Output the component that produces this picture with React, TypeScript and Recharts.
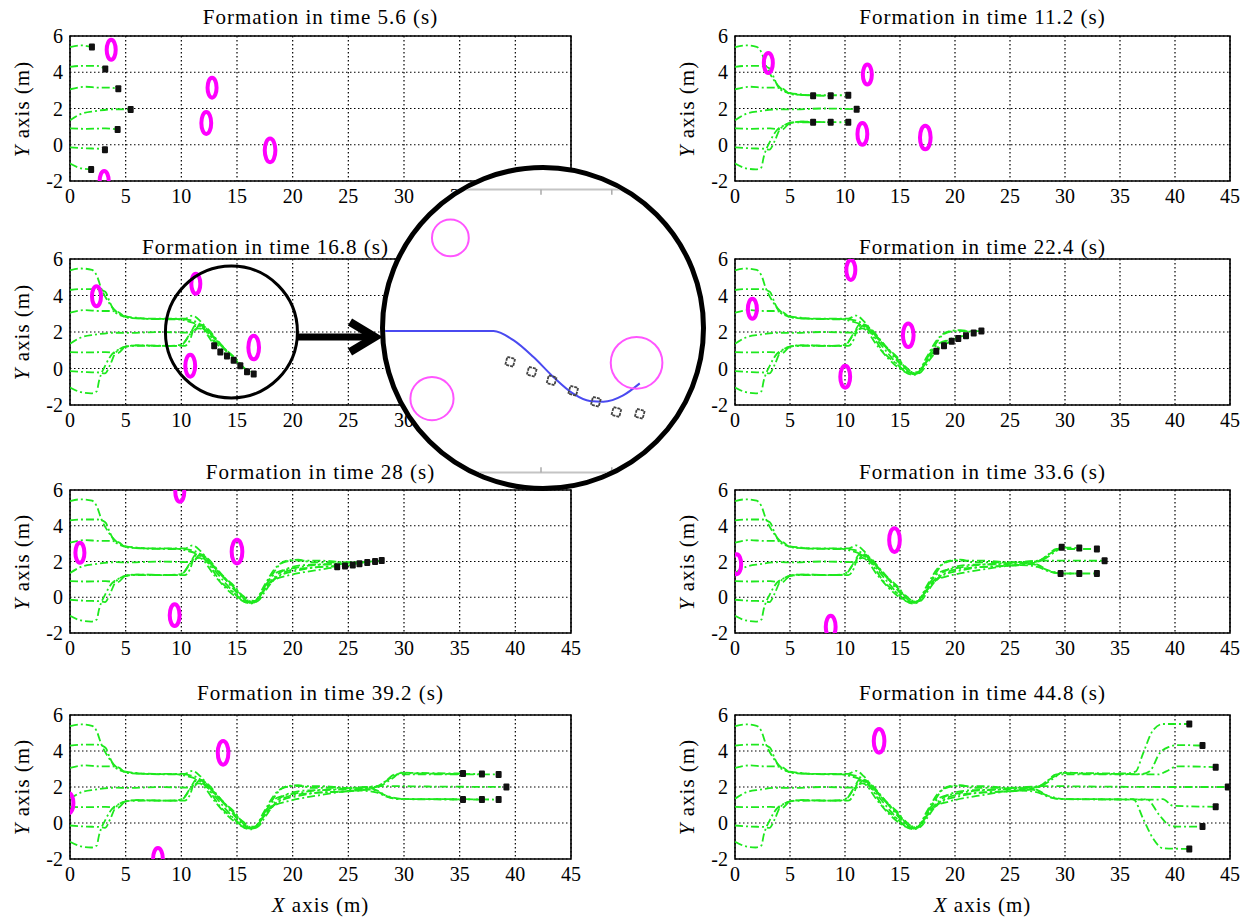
import React from "react";
import {
  ComposedChart,
  Line,
  Scatter,
  XAxis,
  YAxis,
  CartesianGrid,
  ReferenceArea,
  ReferenceDot,
  ReferenceLine,
} from "recharts";

const FONT = "'Liberation Serif', 'DejaVu Serif', serif";
const GREEN = "#1ee81e";
const MAGENTA = "#ff00ff";

const X_TICKS = [0, 5, 10, 15, 20, 25, 30, 35, 40, 45];
const Y_TICKS = [-2, 0, 2, 4, 6];
const FRAME_TIMES = ["5.6", "11.2", "16.8", "22.4", "28", "33.6", "39.2", "44.8"];

// robot trajectories (x, y), robots ordered top to bottom of the starting V
const path1 = [[0, 5.38], [1, 5.48], [1.97, 5.4], [2.4, 5.1], [2.8, 4.4], [3.5, 3.6], [4.1, 3.15], [5, 2.85], [6, 2.78], [7.1, 2.72], [9.5, 2.72], [10.5, 2.6], [11.3, 2.45], [12.2, 2.05], [13.5, 0.9], [14.8, 0.2], [15.8, -0.25], [16.4, -0.3], [17.2, 0.2], [18, 0.8], [19, 1.25], [20.5, 1.5], [22.5, 1.7], [24.7, 1.75], [26.5, 1.85], [28, 2.1], [29, 2.5], [29.7, 2.8], [31.3, 2.78], [35.3, 2.75], [36.4, 2.85], [37.1, 3.87], [38, 5.15], [38.9, 5.5], [41.3, 5.5]];
const path2 = [[0, 4.3], [1, 4.35], [2.4, 4.35], [3.17, 4.2], [3.6, 3.6], [4.1, 3.06], [5.3, 2.8], [7, 2.72], [8.7, 2.7], [10, 2.7], [10.8, 2.65], [11.5, 2.5], [12.3, 2.1], [13.5, 1.35], [14.7, 0.45], [15.6, -0.1], [16.2, -0.3], [16.8, -0.15], [17.6, 0.7], [18.6, 1.4], [20.3, 1.65], [22, 1.8], [24, 1.85], [26, 1.88], [27.5, 2.0], [28.8, 2.5], [29.8, 2.78], [31.3, 2.75], [37, 2.72], [37.7, 2.87], [38.6, 3.87], [39.5, 4.24], [40.2, 4.33], [42.5, 4.3]];
const path3 = [[0, 3.06], [1.4, 3.2], [2.6, 3.15], [3.5, 3.15], [4.34, 3.09], [5, 2.8], [6, 2.75], [8, 2.73], [10.3, 2.73], [11, 2.9], [11.7, 2.6], [12.5, 2.0], [13.5, 1.3], [14.8, 0.6], [15.9, -0.18], [16.6, -0.2], [17.4, 0.6], [18.4, 1.6], [19.5, 2.05], [20.5, 2.1], [21.7, 1.95], [24, 1.95], [27.4, 2.0], [28.3, 2.3], [29.2, 2.7], [32.9, 2.7], [38.5, 2.7], [39.2, 2.87], [40.2, 3.15], [43.7, 3.1]];
const path4 = [[0, 1.35], [1, 1.7], [2.24, 1.85], [4, 1.96], [5.45, 1.95], [8, 2.0], [11.06, 1.96], [11.6, 2.35], [12.3, 2.2], [13.3, 1.5], [14.5, 0.7], [15.5, 0.1], [16.5, -0.3], [17.2, 0.3], [18.2, 1.3], [19, 1.9], [20, 2.05], [22.4, 2.05], [25, 1.95], [28, 2.05], [33.6, 2.02], [39.2, 2.0], [44.8, 2.0]];
const path5 = [[0, 0.9], [1.5, 0.88], [3.2, 0.9], [4.28, 0.84], [5, 1.2], [6, 1.27], [8, 1.25], [10.3, 1.24], [10.8, 1.6], [11.2, 2.3], [11.8, 2.4], [12.6, 1.9], [13.8, 1.1], [15.3, 0.15], [16, -0.25], [16.7, -0.2], [17.5, 0.5], [18.5, 1.2], [19.5, 1.6], [21, 1.8], [23, 1.85], [26.7, 1.95], [27.6, 1.8], [28.6, 1.45], [29.5, 1.33], [32.9, 1.33], [38.5, 1.3], [38.9, 1.33], [39.8, 0.96], [43.7, 0.9]];
const path6 = [[0, -0.14], [1.5, -0.2], [2.6, -0.22], [3.14, -0.27], [3.6, 0.2], [4.1, 0.87], [5, 1.2], [6, 1.27], [8.7, 1.24], [10, 1.3], [10.8, 1.9], [11.3, 2.4], [12, 2.2], [13, 1.5], [14.1, 0.69], [15.2, -0.05], [15.9, -0.3], [16.6, -0.25], [17.4, 0.4], [18.3, 1.0], [19.7, 1.5], [21.5, 1.65], [23.5, 1.72], [25.4, 1.8], [27, 1.85], [28.5, 1.5], [30, 1.33], [31.3, 1.33], [37, 1.3], [37.4, 1.33], [38.6, 0.42], [39.5, -0.13], [40.2, -0.2], [42.5, -0.2]];
const path7 = [[0, -1.04], [1, -1.3], [1.9, -1.36], [2.4, -1.25], [2.6, -0.7], [3.2, 0.2], [3.8, 0.8], [4.4, 1.05], [5.3, 1.23], [7.1, 1.24], [9.5, 1.24], [10.2, 1.4], [10.9, 2.0], [11.6, 2.2], [12.95, 1.24], [14, 0.5], [15.2, -0.1], [16.2, -0.35], [16.9, -0.2], [17.6, 0.4], [18.3, 0.95], [19.5, 1.2], [21, 1.4], [22.5, 1.55], [24, 1.7], [26, 1.8], [27.5, 1.7], [28.5, 1.45], [29.6, 1.33], [35.3, 1.3], [36.2, 1.33], [37.1, 0.24], [38, -0.85], [38.9, -1.4], [41.3, -1.44]];
const ROBOT_PATHS = [path1, path2, path3, path4, path5, path6, path7];

// robot positions in each snapshot (same order as paths)
const robots5_6 = [[1.97, 5.4], [3.17, 4.18], [4.34, 3.09], [5.45, 1.95], [4.28, 0.84], [3.14, -0.27], [1.9, -1.36]];
const robots11_2 = [[7.1, 2.7], [8.7, 2.7], [10.3, 2.73], [11.06, 1.96], [10.3, 1.24], [8.7, 1.24], [7.1, 1.24]];
const robots16_8 = [[13.5, 0.9], [14.7, 0.45], [15.9, -0.18], [16.5, -0.3], [15.3, 0.15], [14.1, 0.69], [12.95, 1.24]];
const robots22_4 = [[19, 1.25], [20.3, 1.65], [21.7, 1.95], [22.4, 2.05], [21, 1.8], [19.7, 1.5], [18.3, 0.95]];
const robots28 = [[24.7, 1.75], [26, 1.88], [27.4, 2.0], [28, 2.05], [26.7, 1.95], [25.4, 1.8], [24, 1.7]];
const robots33_6 = [[29.7, 2.8], [31.3, 2.75], [32.9, 2.7], [33.6, 2.04], [32.9, 1.33], [31.3, 1.33], [29.6, 1.33]];
const robots39_2 = [[35.3, 2.75], [37, 2.72], [38.5, 2.7], [39.2, 2.0], [38.5, 1.3], [37, 1.3], [35.3, 1.3]];
const robots44_8 = [[41.3, 5.5], [42.5, 4.3], [43.7, 3.1], [44.8, 2.0], [43.7, 0.9], [42.5, -0.2], [41.3, -1.44]];
const FRAME_ROBOTS = [robots5_6, robots11_2, robots16_8, robots22_4, robots28, robots33_6, robots39_2, robots44_8];

// moving obstacles in each snapshot: x, y, radius (m)
const obst5_6 = [[3.7, 5.24, 0.55], [12.76, 3.15, 0.55], [12.24, 1.2, 0.6], [17.97, -0.31, 0.65], [3.07, -2.0, 0.55]];
const obst11_2 = [[3.03, 4.51, 0.55], [12.03, 3.87, 0.55], [11.58, 0.6, 0.6], [17.3, 0.4, 0.65]];
const obst16_8 = [[2.38, 3.96, 0.55], [11.3, 4.64, 0.55], [10.8, 0.15, 0.6], [16.5, 1.15, 0.65]];
const obst22_4 = [[1.58, 3.27, 0.55], [10.53, 5.4, 0.55], [10.02, -0.45, 0.6], [15.75, 1.82, 0.65]];
const obst28 = [[0.89, 2.49, 0.55], [9.86, 5.9, 0.55], [9.4, -1.0, 0.6], [15.0, 2.55, 0.65]];
const obst33_6 = [[0.15, 1.85, 0.55], [8.7, -1.65, 0.6], [14.5, 3.2, 0.65]];
const obst39_2 = [[-0.1, 1.1, 0.55], [7.9, -2.0, 0.6], [13.75, 3.9, 0.65]];
const obst44_8 = [[13.1, 4.56, 0.65]];
const FRAME_OBSTACLES = [obst5_6, obst11_2, obst16_8, obst22_4, obst28, obst33_6, obst39_2, obst44_8];

// magnified view of the 16.8 s snapshot
const zoomLeader = [[9.4, 2.0], [12.66, 2.0], [13.22, 1.74], [13.78, 1.27], [14.35, 0.7], [14.91, 0.23], [15.38, 0.02], [15.76, 0.0], [16.32, 0.18], [16.79, 0.52]];
const zoomRobots = [[13.13, 1.13], [13.74, 0.85], [14.3, 0.61], [14.91, 0.31], [15.55, 0.0], [16.13, -0.29], [16.79, -0.34]];
const zoomObstacles = [[11.44, 4.63, 0.52], [10.92, 0.09, 0.61], [16.7, 1.1, 0.73]];

// layout
const COL_X = [70, 735];
const COL_W = [501, 495];
const ROW_Y = [36, 259, 490, 715];
const ROW_H = [145, 146, 143, 144];
const TITLE_Y = [17, 247, 472, 693];
const TITLE_SHIFT = [0, 0, -55, 0, 0, 0, 0, 0];

type Pt = { x: number; y: number; r?: number };
const toPts = (a: number[][]): Pt[] => a.map(([x, y, r]) => ({ x, y, r }));

function trail(path: number[][], pos: number[]): Pt[] {
  const done = path.filter(([x]) => x < pos[0] - 0.01);
  return toPts([...done, pos]);
}

const RobotMark = (p: any) => (
  <rect x={p.cx - 3} y={p.cy - 3.5} width={6} height={7} rx={1} fill="#111" />
);

// main panels: ~11 px per metre horizontally, ~18 px per metre vertically
const ObstacleMark = (p: any) => (
  <ellipse
    cx={p.cx}
    cy={p.cy}
    rx={p.payload.r * 8.2}
    ry={p.payload.r * 18.2}
    fill="none"
    stroke={MAGENTA}
    strokeWidth={4}
  />
);

const ZOOM_PX = 35.4;
const ZoomObstacleMark = (p: any) => (
  <circle cx={p.cx} cy={p.cy} r={p.payload.r * ZOOM_PX} fill="none" stroke="#ff55ff" strokeWidth={2} />
);

const ZoomRobotMark = (p: any) => (
  <rect
    x={p.cx - 4}
    y={p.cy - 4}
    width={8}
    height={8}
    fill="none"
    stroke="#444"
    strokeWidth={1.8}
    strokeDasharray="3 1"
    transform={`rotate(15 ${p.cx} ${p.cy})`}
  />
);

const tickStyle = { fontSize: 20, fill: "#000", fontFamily: FONT };

function FormationPlot({ idx }: { idx: number }) {
  const col = idx % 2;
  const row = Math.floor(idx / 2);
  const left = COL_X[col];
  const w = COL_W[col];
  const top = ROW_Y[row];
  const h = ROW_H[row];
  const robots = FRAME_ROBOTS[idx];
  const padL = 70, padT = 12, padR = 12, padB = 32;

  return (
    <>
      <div style={{ position: "absolute", left: left - padL, top: top - padT }}>
        <ComposedChart
          width={w + padL + padR}
          height={h + padT + padB}
          margin={{ top: padT, right: padR, left: 0, bottom: 0 }}
          style={{ fontFamily: FONT }}
        >
          <CartesianGrid stroke="#000" strokeDasharray="1.5 2.5" strokeWidth={1.2} />
          <XAxis
            type="number"
            dataKey="x"
            domain={[0, 45]}
            ticks={X_TICKS}
            interval={0}
            allowDataOverflow
            axisLine={false}
            tickLine={false}
            height={padB}
            tick={tickStyle}
          />
          <YAxis
            type="number"
            dataKey="y"
            domain={[-2, 6]}
            ticks={Y_TICKS}
            interval={0}
            allowDataOverflow
            axisLine={false}
            tickLine={false}
            width={padL}
            tickMargin={1}
            tick={tickStyle}
          />
          <ReferenceArea x1={0} x2={45} y1={-2} y2={6} fill="#fff" fillOpacity={0} stroke="#000" strokeWidth={1.6} />
          {ROBOT_PATHS.map((p, i) => (
            <Line
              key={i}
              data={trail(p, robots[i])}
              dataKey="y"
              type="monotone"
              stroke={GREEN}
              strokeWidth={1.8}
              strokeDasharray="8 3 2 3"
              dot={false}
              activeDot={false}
              isAnimationActive={false}
            />
          ))}
          <Scatter data={toPts(FRAME_OBSTACLES[idx])} shape={ObstacleMark} isAnimationActive={false} />
          <Scatter data={toPts(robots)} shape={RobotMark} isAnimationActive={false} />
          {idx === 2 && (
            <ReferenceDot x={14.5} y={2} r={66} fill="none" stroke="#000" strokeWidth={3} />
          )}
        </ComposedChart>
      </div>
      <div
        style={{
          position: "absolute",
          left: left + TITLE_SHIFT[idx],
          width: w,
          top: TITLE_Y[row],
          transform: "translateY(-50%)",
          textAlign: "center",
          fontSize: 21,
          letterSpacing: 1,
          whiteSpace: "nowrap",
          fontFamily: FONT,
        }}
      >
        Formation in time {FRAME_TIMES[idx]} (s)
      </div>
      <div
        style={{
          position: "absolute",
          left: left - 48,
          top: top + h / 2,
          transform: "translate(-50%, -50%) rotate(-90deg)",
          fontSize: 21,
          letterSpacing: 1,
          whiteSpace: "nowrap",
          fontFamily: FONT,
        }}
      >
        <i>Y</i> axis (m)
      </div>
    </>
  );
}

function ZoomInset() {
  return (
    <div
      style={{
        position: "absolute",
        left: 380,
        top: 165,
        width: 326,
        height: 326,
        boxSizing: "border-box",
        border: "5px solid #000",
        borderRadius: "50%",
        overflow: "hidden",
        background: "#fff",
      }}
    >
      <ComposedChart width={316} height={316} margin={{ top: 0, right: 0, left: 0, bottom: 0 }}>
        <XAxis type="number" dataKey="x" domain={[9.593, 18.52]} allowDataOverflow hide />
        <YAxis type="number" dataKey="y" domain={[-2.379, 6.548]} allowDataOverflow hide />
        <ReferenceLine y={6} stroke="#c4c4c4" strokeWidth={2} />
        <ReferenceLine y={-2} stroke="#c4c4c4" strokeWidth={2} />
        {[14, 16].map((t) => (
          <ReferenceLine key={`t${t}`} segment={[{ x: t, y: 5.85 }, { x: t, y: 6 }]} stroke="#aaa" strokeWidth={1.5} />
        ))}
        {[14, 16].map((t) => (
          <ReferenceLine key={`b${t}`} segment={[{ x: t, y: -2 }, { x: t, y: -1.85 }]} stroke="#aaa" strokeWidth={1.5} />
        ))}
        <Scatter data={toPts(zoomObstacles)} shape={ZoomObstacleMark} isAnimationActive={false} />
        <Line
          data={toPts(zoomLeader)}
          dataKey="y"
          type="monotone"
          stroke="#4a4af0"
          strokeWidth={2}
          dot={false}
          activeDot={false}
          isAnimationActive={false}
        />
        <Scatter data={toPts(zoomRobots)} shape={ZoomRobotMark} isAnimationActive={false} />
      </ComposedChart>
    </div>
  );
}

export default function App() {
  return (
    <div
      style={{
        position: "absolute",
        left: 0,
        top: 0,
        width: 1254,
        height: 923,
        background: "#fff",
        overflow: "hidden",
        fontFamily: FONT,
        color: "#000",
      }}
    >
      {FRAME_TIMES.map((t, i) => (
        <FormationPlot key={t} idx={i} />
      ))}
      <ZoomInset />
      <svg width={1254} height={923} style={{ position: "absolute", left: 0, top: 0, pointerEvents: "none" }}>
        <line x1={297} y1={337} x2={368} y2={337} stroke="#000" strokeWidth={7} />
        <polyline points="350,322 375,337 350,352" fill="none" stroke="#000" strokeWidth={8} />
      </svg>
      {[0, 1].map((c) => (
        <div
          key={c}
          style={{
            position: "absolute",
            left: COL_X[c],
            width: COL_W[c],
            top: 905,
            transform: "translateY(-50%)",
            textAlign: "center",
            fontSize: 21,
            letterSpacing: 1,
            whiteSpace: "nowrap",
            fontFamily: FONT,
          }}
        >
          <i>X</i> axis (m)
        </div>
      ))}
    </div>
  );
}
